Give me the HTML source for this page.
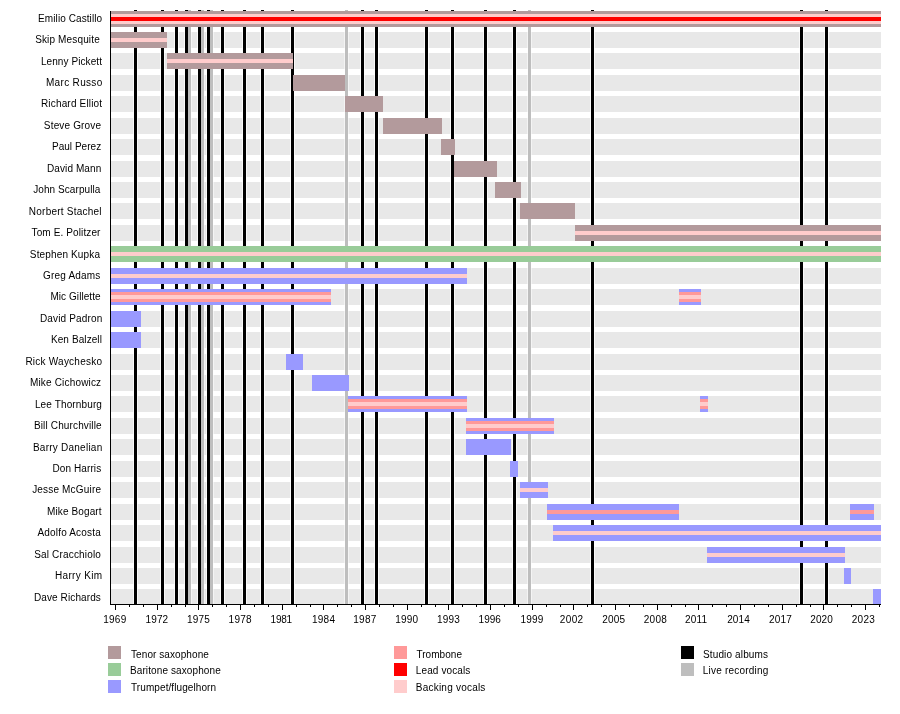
<!DOCTYPE html>
<html><head><meta charset="utf-8"><title>Timeline</title>
<style>
html,body{margin:0;padding:0;background:#fff;}
body{width:900px;height:714px;overflow:hidden;}
svg{display:block;}
text{font-family:"Liberation Sans",sans-serif;font-size:10px;fill:#000;}
</style></head><body>
<div style="will-change:transform"><svg width="900" height="714" viewBox="0 0 900 714">
<rect x="0" y="0" width="900" height="714" fill="#fff"/>
<rect x="111" y="11" width="770" height="16" fill="#e8e8e8"/>
<rect x="111" y="32" width="770" height="16" fill="#e8e8e8"/>
<rect x="111" y="53" width="770" height="16" fill="#e8e8e8"/>
<rect x="111" y="75" width="770" height="16" fill="#e8e8e8"/>
<rect x="111" y="96" width="770" height="16" fill="#e8e8e8"/>
<rect x="111" y="118" width="770" height="16" fill="#e8e8e8"/>
<rect x="111" y="139" width="770" height="16" fill="#e8e8e8"/>
<rect x="111" y="161" width="770" height="16" fill="#e8e8e8"/>
<rect x="111" y="182" width="770" height="16" fill="#e8e8e8"/>
<rect x="111" y="203" width="770" height="16" fill="#e8e8e8"/>
<rect x="111" y="225" width="770" height="16" fill="#e8e8e8"/>
<rect x="111" y="246" width="770" height="16" fill="#e8e8e8"/>
<rect x="111" y="268" width="770" height="16" fill="#e8e8e8"/>
<rect x="111" y="289" width="770" height="16" fill="#e8e8e8"/>
<rect x="111" y="311" width="770" height="16" fill="#e8e8e8"/>
<rect x="111" y="332" width="770" height="16" fill="#e8e8e8"/>
<rect x="111" y="354" width="770" height="16" fill="#e8e8e8"/>
<rect x="111" y="375" width="770" height="16" fill="#e8e8e8"/>
<rect x="111" y="396" width="770" height="16" fill="#e8e8e8"/>
<rect x="111" y="418" width="770" height="16" fill="#e8e8e8"/>
<rect x="111" y="439" width="770" height="16" fill="#e8e8e8"/>
<rect x="111" y="461" width="770" height="16" fill="#e8e8e8"/>
<rect x="111" y="482" width="770" height="16" fill="#e8e8e8"/>
<rect x="111" y="504" width="770" height="16" fill="#e8e8e8"/>
<rect x="111" y="525" width="770" height="16" fill="#e8e8e8"/>
<rect x="111" y="547" width="770" height="16" fill="#e8e8e8"/>
<rect x="111" y="568" width="770" height="16" fill="#e8e8e8"/>
<rect x="111" y="589" width="770" height="16" fill="#e8e8e8"/>
<rect x="133" y="10" width="5" height="594" fill="#fff" opacity="0.75"/>
<rect x="160" y="10" width="5" height="594" fill="#fff" opacity="0.75"/>
<rect x="174" y="10" width="5" height="594" fill="#fff" opacity="0.75"/>
<rect x="184" y="10" width="5" height="594" fill="#fff" opacity="0.75"/>
<rect x="197" y="10" width="5" height="594" fill="#fff" opacity="0.75"/>
<rect x="206" y="10" width="5" height="594" fill="#fff" opacity="0.75"/>
<rect x="220" y="10" width="5" height="594" fill="#fff" opacity="0.75"/>
<rect x="242" y="10" width="5" height="594" fill="#fff" opacity="0.75"/>
<rect x="260" y="10" width="5" height="594" fill="#fff" opacity="0.75"/>
<rect x="290" y="10" width="5" height="594" fill="#fff" opacity="0.75"/>
<rect x="360" y="10" width="5" height="594" fill="#fff" opacity="0.75"/>
<rect x="374" y="10" width="5" height="594" fill="#fff" opacity="0.75"/>
<rect x="424" y="10" width="5" height="594" fill="#fff" opacity="0.75"/>
<rect x="450" y="10" width="5" height="594" fill="#fff" opacity="0.75"/>
<rect x="483" y="10" width="5" height="594" fill="#fff" opacity="0.75"/>
<rect x="512" y="10" width="5" height="594" fill="#fff" opacity="0.75"/>
<rect x="590" y="10" width="5" height="594" fill="#fff" opacity="0.75"/>
<rect x="799" y="10" width="5" height="594" fill="#fff" opacity="0.75"/>
<rect x="824" y="10" width="5" height="594" fill="#fff" opacity="0.75"/>
<rect x="187" y="10" width="5" height="594" fill="#fff" opacity="0.5"/>
<rect x="200" y="10" width="5" height="594" fill="#fff" opacity="0.5"/>
<rect x="209" y="10" width="5" height="594" fill="#fff" opacity="0.5"/>
<rect x="344" y="10" width="5" height="594" fill="#fff" opacity="0.5"/>
<rect x="527" y="10" width="5" height="594" fill="#fff" opacity="0.5"/>
<rect x="188" y="10" width="3" height="594" fill="#bebebe"/>
<rect x="201" y="10" width="3" height="594" fill="#bebebe"/>
<rect x="210" y="10" width="3" height="594" fill="#bebebe"/>
<rect x="345" y="10" width="3" height="594" fill="#bebebe"/>
<rect x="528" y="10" width="3" height="594" fill="#bebebe"/>
<rect x="134" y="10" width="3" height="594" fill="#000"/>
<rect x="161" y="10" width="3" height="594" fill="#000"/>
<rect x="175" y="10" width="3" height="594" fill="#000"/>
<rect x="185" y="10" width="3" height="594" fill="#000"/>
<rect x="198" y="10" width="3" height="594" fill="#000"/>
<rect x="207" y="10" width="3" height="594" fill="#000"/>
<rect x="221" y="10" width="3" height="594" fill="#000"/>
<rect x="243" y="10" width="3" height="594" fill="#000"/>
<rect x="261" y="10" width="3" height="594" fill="#000"/>
<rect x="291" y="10" width="3" height="594" fill="#000"/>
<rect x="361" y="10" width="3" height="594" fill="#000"/>
<rect x="375" y="10" width="3" height="594" fill="#000"/>
<rect x="425" y="10" width="3" height="594" fill="#000"/>
<rect x="451" y="10" width="3" height="594" fill="#000"/>
<rect x="484" y="10" width="3" height="594" fill="#000"/>
<rect x="513" y="10" width="3" height="594" fill="#000"/>
<rect x="591" y="10" width="3" height="594" fill="#000"/>
<rect x="800" y="10" width="3" height="594" fill="#000"/>
<rect x="825" y="10" width="3" height="594" fill="#000"/>
<rect x="111" y="11" width="770" height="16" fill="#b39a9c"/>
<rect x="111" y="14" width="770" height="10" fill="#ffcccc"/>
<rect x="111" y="17" width="770" height="4" fill="#ff0000"/>
<rect x="111" y="32" width="56" height="16" fill="#b39a9c"/>
<rect x="111" y="38" width="56" height="4" fill="#ffcccc"/>
<rect x="167" y="53" width="126" height="16" fill="#b39a9c"/>
<rect x="167" y="59" width="126" height="4" fill="#ffcccc"/>
<rect x="293" y="75" width="52" height="16" fill="#b39a9c"/>
<rect x="345" y="96" width="38" height="16" fill="#b39a9c"/>
<rect x="383" y="118" width="59" height="16" fill="#b39a9c"/>
<rect x="441" y="139" width="14" height="16" fill="#b39a9c"/>
<rect x="454" y="161" width="43" height="16" fill="#b39a9c"/>
<rect x="495" y="182" width="26" height="16" fill="#b39a9c"/>
<rect x="520" y="203" width="55" height="16" fill="#b39a9c"/>
<rect x="575" y="225" width="306" height="16" fill="#b39a9c"/>
<rect x="575" y="231" width="306" height="4" fill="#ffcccc"/>
<rect x="111" y="246" width="770" height="16" fill="#99cc99"/>
<rect x="111" y="252" width="770" height="4" fill="#ffcccc"/>
<rect x="111" y="268" width="356" height="16" fill="#9999ff"/>
<rect x="111" y="274" width="356" height="4" fill="#ffcccc"/>
<rect x="111" y="289" width="220" height="16" fill="#9999ff"/>
<rect x="111" y="292" width="220" height="10" fill="#ff9999"/>
<rect x="111" y="295" width="220" height="4" fill="#ffcccc"/>
<rect x="679" y="289" width="22" height="16" fill="#9999ff"/>
<rect x="679" y="292" width="22" height="10" fill="#ff9999"/>
<rect x="679" y="295" width="22" height="4" fill="#ffcccc"/>
<rect x="111" y="311" width="30" height="16" fill="#9999ff"/>
<rect x="111" y="332" width="30" height="16" fill="#9999ff"/>
<rect x="286" y="354" width="17" height="16" fill="#9999ff"/>
<rect x="312" y="375" width="37" height="16" fill="#9999ff"/>
<rect x="348" y="396" width="119" height="16" fill="#9999ff"/>
<rect x="348" y="399" width="119" height="10" fill="#ff9999"/>
<rect x="348" y="402" width="119" height="4" fill="#ffcccc"/>
<rect x="700" y="396" width="8" height="16" fill="#9999ff"/>
<rect x="700" y="399" width="8" height="10" fill="#ff9999"/>
<rect x="700" y="402" width="8" height="4" fill="#ffcccc"/>
<rect x="466" y="418" width="88" height="16" fill="#9999ff"/>
<rect x="466" y="421" width="88" height="10" fill="#ff9999"/>
<rect x="466" y="424" width="88" height="4" fill="#ffcccc"/>
<rect x="466" y="439" width="45" height="16" fill="#9999ff"/>
<rect x="510" y="461" width="8" height="16" fill="#9999ff"/>
<rect x="520" y="482" width="28" height="16" fill="#9999ff"/>
<rect x="520" y="488" width="28" height="4" fill="#ffcccc"/>
<rect x="547" y="504" width="132" height="16" fill="#9999ff"/>
<rect x="547" y="510" width="132" height="4" fill="#ff9999"/>
<rect x="850" y="504" width="24" height="16" fill="#9999ff"/>
<rect x="850" y="510" width="24" height="4" fill="#ff9999"/>
<rect x="553" y="525" width="328" height="16" fill="#9999ff"/>
<rect x="553" y="531" width="328" height="4" fill="#ffcccc"/>
<rect x="707" y="547" width="138" height="16" fill="#9999ff"/>
<rect x="707" y="553" width="138" height="4" fill="#ffcccc"/>
<rect x="844" y="568" width="7" height="16" fill="#9999ff"/>
<rect x="873" y="589" width="8" height="16" fill="#9999ff"/>
<rect x="110" y="11" width="1" height="594" fill="#000"/>
<rect x="110" y="604" width="771" height="1" fill="#000"/>
<rect x="115" y="605" width="1" height="5" fill="#000"/>
<rect x="129" y="605" width="1" height="2" fill="#000"/>
<rect x="143" y="605" width="1" height="2" fill="#000"/>
<rect x="157" y="605" width="1" height="5" fill="#000"/>
<rect x="171" y="605" width="1" height="2" fill="#000"/>
<rect x="185" y="605" width="1" height="2" fill="#000"/>
<rect x="198" y="605" width="1" height="5" fill="#000"/>
<rect x="212" y="605" width="1" height="2" fill="#000"/>
<rect x="226" y="605" width="1" height="2" fill="#000"/>
<rect x="240" y="605" width="1" height="5" fill="#000"/>
<rect x="254" y="605" width="1" height="2" fill="#000"/>
<rect x="268" y="605" width="1" height="2" fill="#000"/>
<rect x="282" y="605" width="1" height="5" fill="#000"/>
<rect x="296" y="605" width="1" height="2" fill="#000"/>
<rect x="310" y="605" width="1" height="2" fill="#000"/>
<rect x="323" y="605" width="1" height="5" fill="#000"/>
<rect x="337" y="605" width="1" height="2" fill="#000"/>
<rect x="351" y="605" width="1" height="2" fill="#000"/>
<rect x="365" y="605" width="1" height="5" fill="#000"/>
<rect x="379" y="605" width="1" height="2" fill="#000"/>
<rect x="393" y="605" width="1" height="2" fill="#000"/>
<rect x="407" y="605" width="1" height="5" fill="#000"/>
<rect x="421" y="605" width="1" height="2" fill="#000"/>
<rect x="435" y="605" width="1" height="2" fill="#000"/>
<rect x="448" y="605" width="1" height="5" fill="#000"/>
<rect x="462" y="605" width="1" height="2" fill="#000"/>
<rect x="476" y="605" width="1" height="2" fill="#000"/>
<rect x="490" y="605" width="1" height="5" fill="#000"/>
<rect x="504" y="605" width="1" height="2" fill="#000"/>
<rect x="518" y="605" width="1" height="2" fill="#000"/>
<rect x="532" y="605" width="1" height="5" fill="#000"/>
<rect x="546" y="605" width="1" height="2" fill="#000"/>
<rect x="560" y="605" width="1" height="2" fill="#000"/>
<rect x="573" y="605" width="1" height="5" fill="#000"/>
<rect x="587" y="605" width="1" height="2" fill="#000"/>
<rect x="601" y="605" width="1" height="2" fill="#000"/>
<rect x="615" y="605" width="1" height="5" fill="#000"/>
<rect x="629" y="605" width="1" height="2" fill="#000"/>
<rect x="643" y="605" width="1" height="2" fill="#000"/>
<rect x="657" y="605" width="1" height="5" fill="#000"/>
<rect x="671" y="605" width="1" height="2" fill="#000"/>
<rect x="685" y="605" width="1" height="2" fill="#000"/>
<rect x="698" y="605" width="1" height="5" fill="#000"/>
<rect x="712" y="605" width="1" height="2" fill="#000"/>
<rect x="726" y="605" width="1" height="2" fill="#000"/>
<rect x="740" y="605" width="1" height="5" fill="#000"/>
<rect x="754" y="605" width="1" height="2" fill="#000"/>
<rect x="768" y="605" width="1" height="2" fill="#000"/>
<rect x="782" y="605" width="1" height="5" fill="#000"/>
<rect x="796" y="605" width="1" height="2" fill="#000"/>
<rect x="810" y="605" width="1" height="2" fill="#000"/>
<rect x="823" y="605" width="1" height="5" fill="#000"/>
<rect x="837" y="605" width="1" height="2" fill="#000"/>
<rect x="851" y="605" width="1" height="2" fill="#000"/>
<rect x="865" y="605" width="1" height="5" fill="#000"/>
<rect x="879" y="605" width="1" height="2" fill="#000"/>
<text x="38.09" y="21.80" textLength="64.03" lengthAdjust="spacing">Emilio Castillo</text>
<text x="35.14" y="42.70" textLength="64.59" lengthAdjust="spacing">Skip Mesquite</text>
<text x="40.93" y="65.00" textLength="61.02" lengthAdjust="spacing">Lenny Pickett</text>
<text x="45.93" y="85.80" textLength="56.33" lengthAdjust="spacing">Marc Russo</text>
<text x="40.94" y="106.80" textLength="61.18" lengthAdjust="spacing">Richard Elliot</text>
<text x="43.87" y="128.50" textLength="57.17" lengthAdjust="spacing">Steve Grove</text>
<text x="51.94" y="149.80" textLength="49.19" lengthAdjust="spacing">Paul Perez</text>
<text x="46.94" y="171.50" textLength="54.32" lengthAdjust="spacing">David Mann</text>
<text x="33.24" y="192.80" textLength="67.11" lengthAdjust="spacing">John Scarpulla</text>
<text x="28.79" y="214.50" textLength="72.80" lengthAdjust="spacing">Norbert Stachel</text>
<text x="31.54" y="235.80" textLength="68.92" lengthAdjust="spacing">Tom E. Politzer</text>
<text x="29.87" y="257.70" textLength="70.12" lengthAdjust="spacing">Stephen Kupka</text>
<text x="43.05" y="278.70" textLength="57.28" lengthAdjust="spacing">Greg Adams</text>
<text x="50.40" y="299.50" textLength="50.20" lengthAdjust="spacing">Mic Gillette</text>
<text x="39.94" y="321.50" textLength="62.25" lengthAdjust="spacing">David Padron</text>
<text x="50.94" y="342.80" textLength="50.99" lengthAdjust="spacing">Ken Balzell</text>
<text x="25.40" y="364.50" textLength="76.55" lengthAdjust="spacing">Rick Waychesko</text>
<text x="29.94" y="385.80" textLength="71.17" lengthAdjust="spacing">Mike Cichowicz</text>
<text x="34.93" y="407.50" textLength="67.00" lengthAdjust="spacing">Lee Thornburg</text>
<text x="33.94" y="428.50" textLength="67.70" lengthAdjust="spacing">Bill Churchville</text>
<text x="32.94" y="450.50" textLength="69.28" lengthAdjust="spacing">Barry Danelian</text>
<text x="52.40" y="471.80" textLength="48.77" lengthAdjust="spacing">Don Harris</text>
<text x="32.13" y="492.50" textLength="68.84" lengthAdjust="spacing">Jesse McGuire</text>
<text x="46.94" y="514.80" textLength="54.68" lengthAdjust="spacing">Mike Bogart</text>
<text x="37.47" y="535.70" textLength="63.22" lengthAdjust="spacing">Adolfo Acosta</text>
<text x="34.14" y="557.50" textLength="66.78" lengthAdjust="spacing">Sal Cracchiolo</text>
<text x="54.93" y="579.00" textLength="47.26" lengthAdjust="spacing">Harry Kim</text>
<text x="33.94" y="600.80" textLength="66.93" lengthAdjust="spacing">Dave Richards</text>
<text x="131.04" y="657.60" textLength="77.79" lengthAdjust="spacing">Tenor saxophone</text>
<text x="129.94" y="674.30" textLength="90.82" lengthAdjust="spacing">Baritone saxophone</text>
<text x="131.04" y="690.70" textLength="85.00" lengthAdjust="spacing">Trumpet/flugelhorn</text>
<text x="416.40" y="657.70" textLength="45.54" lengthAdjust="spacing">Trombone</text>
<text x="415.79" y="674.30" textLength="54.58" lengthAdjust="spacing">Lead vocals</text>
<text x="415.79" y="691.20" textLength="69.57" lengthAdjust="spacing">Backing vocals</text>
<text x="702.97" y="657.70" textLength="65.06" lengthAdjust="spacing">Studio albums</text>
<text x="702.79" y="674.20" textLength="65.55" lengthAdjust="spacing">Live recording</text>
<text x="103.22" y="622.70" textLength="23.03" lengthAdjust="spacing">1969</text>
<text x="145.55" y="622.70" textLength="22.62" lengthAdjust="spacing">1972</text>
<text x="186.95" y="622.70" textLength="22.88" lengthAdjust="spacing">1975</text>
<text x="228.56" y="622.70" textLength="23.12" lengthAdjust="spacing">1978</text>
<text x="270.55" y="622.70" textLength="21.55" lengthAdjust="spacing">1981</text>
<text x="311.88" y="622.70" textLength="23.15" lengthAdjust="spacing">1984</text>
<text x="353.22" y="622.70" textLength="23.21" lengthAdjust="spacing">1987</text>
<text x="395.22" y="622.70" textLength="22.93" lengthAdjust="spacing">1990</text>
<text x="436.95" y="622.70" textLength="22.89" lengthAdjust="spacing">1993</text>
<text x="478.55" y="622.70" textLength="22.29" lengthAdjust="spacing">1996</text>
<text x="520.55" y="622.70" textLength="22.70" lengthAdjust="spacing">1999</text>
<text x="559.80" y="622.70" textLength="23.37" lengthAdjust="spacing">2002</text>
<text x="602.16" y="622.70" textLength="22.96" lengthAdjust="spacing">2005</text>
<text x="643.80" y="622.70" textLength="23.02" lengthAdjust="spacing">2008</text>
<text x="684.91" y="622.70" textLength="22.24" lengthAdjust="spacing">2011</text>
<text x="727.16" y="622.70" textLength="22.56" lengthAdjust="spacing">2014</text>
<text x="768.91" y="622.70" textLength="22.93" lengthAdjust="spacing">2017</text>
<text x="810.36" y="622.70" textLength="22.43" lengthAdjust="spacing">2020</text>
<text x="851.80" y="622.70" textLength="22.95" lengthAdjust="spacing">2023</text>
<rect x="108" y="646" width="13" height="13" fill="#b39a9c"/>
<rect x="108" y="663" width="13" height="13" fill="#99cc99"/>
<rect x="108" y="680" width="13" height="13" fill="#9999ff"/>
<rect x="394" y="646" width="13" height="13" fill="#ff9999"/>
<rect x="394" y="663" width="13" height="13" fill="#ff0000"/>
<rect x="394" y="680" width="13" height="13" fill="#ffcccc"/>
<rect x="681" y="646" width="13" height="13" fill="#000"/>
<rect x="681" y="663" width="13" height="13" fill="#bebebe"/>
</svg></div>
</body></html>
